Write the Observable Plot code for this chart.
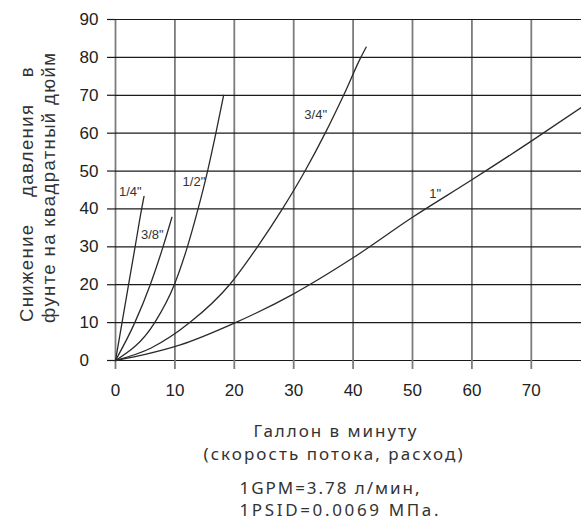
<!DOCTYPE html>
<html>
<head>
<meta charset="utf-8">
<script src="https://cdn.jsdelivr.net/npm/d3@7"></script>
<script src="https://cdn.jsdelivr.net/npm/@observablehq/plot@0.6"></script>
<style>
  html, body { margin: 0; padding: 0; background: #fff; }
  #chart svg { display: block; }
</style>
</head>
<body>
<div id="chart"></div>
<script>
// ---- Data ----
const xTicks = [0, 10, 20, 30, 40, 50, 60, 70];
const yTicks = [0, 10, 20, 30, 40, 50, 60, 70, 80, 90];
const xMax = 78.45;

const sizes = ['1/4"', '3/8"', '1/2"', '3/4"', '1"'];

// flow (GPM) vs pressure drop (PSI) for each size
const flow14 = [0, 1.1, 2.2, 3.3, 4.4, 4.8];
const drop14 = [0, 10, 20, 30, 40, 43.3];

const flow38 = [0, 3.25, 5.85, 8.0, 9.5];
const drop38 = [0, 10, 20, 30, 37.8];

const flow12 = [0, 6.6, 9.9, 12.1, 13.9, 15.5, 16.9, 18.2];
const drop12 = [0, 10, 20, 30, 40, 50, 60, 70];

const flow34 = [0, 6, 12.5, 19.2, 23.9, 28.1, 31.9, 35.3, 38.4, 41.3, 42.2];
const drop34 = [0, 3.3, 10, 20, 30, 40, 50, 60, 70, 80, 82.7];

const flow1 = [0, 5, 10.9, 20, 30, 40, 50, 60, 70, 78.45];
const drop1 = [0, 1.6, 4.1, 9.85, 17.6, 27.1, 37.8, 47.7, 57.9, 66.8];

// curve label positions (data units)
const labelX = [2.5, 6.2, 13.2, 33.7, 53.8];
const labelY = [44.5, 33.1, 47.2, 64.8, 44.0];

const yTitle = ["Снижение давления в", "фунте на квадратный дюйм"];
const xTitle = ["Галлон в минуту", "(скорость потока, расход)"];
const note = ["1GPM=3.78 л/мин,", "1PSID=0.0069 МПа."];

// ---- Build table ----
const rows = [];
function addSeries(name, xs, ys) {
  xs.forEach((x, i) => rows.push({ size: name, flow: x, drop: ys[i] }));
}
addSeries(sizes[0], flow14, drop14);
addSeries(sizes[1], flow38, drop38);
addSeries(sizes[2], flow12, drop12);
addSeries(sizes[3], flow34, drop34);
addSeries(sizes[4], flow1, drop1);

const plot = Plot.plot({
  width: 581,
  height: 520,
  marginLeft: 115,
  marginRight: 0,
  marginTop: 19,
  marginBottom: 160,
  style: { fontFamily: "'Liberation Sans', Arial, sans-serif", background: "#fff", color: "#222" },
  x: { domain: [0, xMax] },
  y: { domain: [0, 90] },
  marks: [
    Plot.ruleX(xTicks, { y1: 0, y2: 90, stroke: "#7c7c7c", strokeWidth: 1.8 }),
    Plot.ruleY(yTicks, { x1: 0, x2: xMax, stroke: "#1a1a1a", strokeWidth: 1.2 }),
    Plot.axisX({
      ticks: xTicks, tickSize: 9, tickPadding: 14, stroke: "#7c7c7c", strokeWidth: 1.8,
      fill: "#222", fontSize: 17, label: null
    }),
    Plot.axisY({
      ticks: yTicks, tickSize: 8, tickPadding: 28, textAnchor: "start", stroke: "#1a1a1a",
      strokeWidth: 1.2, fill: "#222", fontSize: 17, label: null
    }),
    Plot.line(rows, {
      x: "flow", y: "drop", z: "size", curve: "monotone-x",
      stroke: "#2a2a2a", strokeWidth: 1.3
    }),
    Plot.text(sizes, {
      x: (d, i) => labelX[i], y: (d, i) => labelY[i], text: d => d,
      fontSize: 13, fill: "#333"
    })
  ]
});

document.getElementById("chart").appendChild(plot);

// ---- Titles ----
const svg = d3.select(plot);
const yT = svg.append("g")
  .attr("font-family", "'Liberation Sans', Arial, sans-serif")
  .attr("font-size", 18.5)
  .attr("fill", "#333");

// second line: natural glyphs, spread to the measured length
const l2 = yT.append("text")
  .attr("transform", "translate(54.5,323) rotate(-90)")
  .attr("text-anchor", "start")
  .text(yTitle[1]);
const n2 = yTitle[1].length;
const ls = Math.max(0, (270 - l2.node().getComputedTextLength()) / (n2 - 1));
l2.attr("letter-spacing", ls);

// first line: same letter spacing, justified to its length with wider word gaps
const l1 = yT.append("text")
  .attr("transform", "translate(33.3,322) rotate(-90)")
  .attr("text-anchor", "start")
  .attr("letter-spacing", ls)
  .text(yTitle[0]);
const w1 = l1.node().getComputedTextLength();
const gaps = (yTitle[0].match(/ /g) || []).length;
l1.attr("word-spacing", Math.max(0, (256 - w1) / gaps));

const xT = svg.append("g")
  .attr("font-family", "'Noto Sans', 'Open Sans', sans-serif")
  .attr("fill", "#333");
[[335, 436.7, 163], [333, 460, 259]].forEach(([x, y, len], i) => {
  const t = xT.append("text")
    .attr("x", x).attr("y", y)
    .attr("font-size", 17)
    .attr("text-anchor", "middle")
    .text(xTitle[i]);
  if (t.node().getComputedTextLength() < len) t.attr("textLength", len).attr("lengthAdjust", "spacing");
});
[[239.5, 494.3, 180], [239.5, 516, 199]].forEach(([x, y, len], i) => {
  const t = xT.append("text")
    .attr("x", x).attr("y", y)
    .attr("font-size", 17)
    .attr("text-anchor", "start")
    .text(note[i]);
  if (t.node().getComputedTextLength() < len) t.attr("textLength", len).attr("lengthAdjust", "spacing");
});
</script>
</body>
</html>
